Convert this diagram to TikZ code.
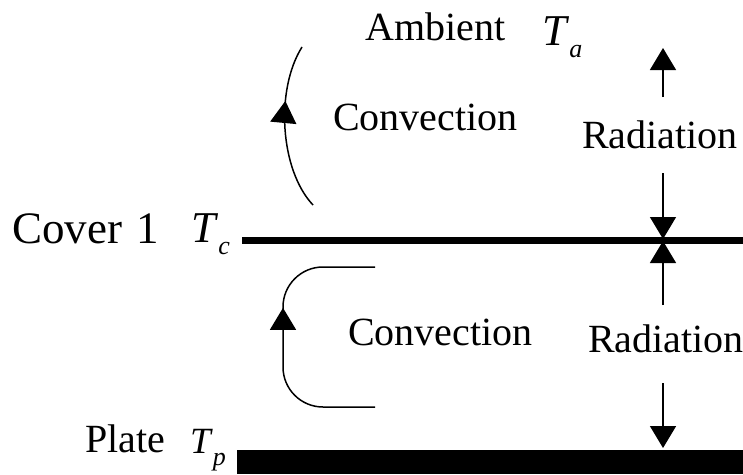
\documentclass[tikz,border=0pt]{standalone}
\usepackage{fontspec}
\setmainfont{LiberationSerif}[Extension=.ttf, UprightFont=*-Regular, ItalicFont=*-Italic, BoldFont=*-Bold, BoldItalicFont=*-BoldItalic]
\usetikzlibrary{arrows.meta,positioning,decorations.markings}

\newcommand{\Tsub}[1]{\textit{T}\raisebox{-12pt}{\fontsize{26}{30}\selectfont\textit{#1}}}

\begin{document}
\begin{tikzpicture}[x=1pt, y=-1pt, >={Triangle[length=22pt,width=26pt]},
    every node/.style={inner sep=0pt, anchor=base west, font=\fontsize{40}{48}\selectfont}]
    \useasboundingbox (0,0) rectangle (743,474);

    % cover and plate
    \coordinate (cl) at (242,240);
    \coordinate (cr) at (743,240);
    \draw[line width=7pt] (cl) -- (cr);
    \node[fill, anchor=north west, minimum width=506pt, minimum height=24pt] (plate) at (237,450) {};

    % labels
    \node (amb) at (365,40) {Ambient};
    \node (ta) at (542,45) {\fontsize{44}{48}\selectfont\Tsub{a}};
    \node (cover) at (12,243) {\fontsize{45}{50}\selectfont Cover\hspace{14pt}1};
    \node (tc) at (191,242) {\fontsize{44}{48}\selectfont\Tsub{c}};
    \node (pl) at (85,452) {Plate};
    \node (tp) at (190,453) {\fontsize{37}{40}\selectfont\Tsub{p}};
    \node (conv1) at (333,130) {Convection};
    \node (conv2) at (348,345) {Convection};
    \node (rad1) at (582,148) {Radiation};
    \node (rad2) at (588,352) {Radiation};

    % radiation arrows
    \coordinate (r1a) at (663,97);  \coordinate (r1b) at (663,48);
    \coordinate (r2a) at (663,173); \coordinate (r2b) at (663,239);
    \coordinate (r3a) at (663,305); \coordinate (r3b) at (663,241);
    \coordinate (r4a) at (663,383); \coordinate (r4b) at (663,448);
    \draw[->, line width=1.5pt] (r1a) -- (r1b);
    \draw[->, line width=1.5pt] (r2a) -- (r2b);
    \draw[->, line width=1.5pt] (r3a) -- (r3b);
    \draw[->, line width=1.5pt] (r4a) -- (r4b);

    % convection loops
    \coordinate (c1a) at (313,205); \coordinate (c1b) at (302,47);
    \draw[line width=1.5pt, postaction=decorate,
        decoration={markings, mark=at position 0.66 with {\arrow{>}}}]
        (c1a) .. controls (280,170) and (275,90) .. (c1b);
    \coordinate (c2a) at (375,407); \coordinate (c2b) at (375,267);
    \draw[line width=1.5pt, rounded corners=40pt, postaction=decorate,
        decoration={markings, mark=at position 174pt with {\arrow{>}}}]
        (c2a) -- (283,407) -- (283,267) -- (c2b);
\end{tikzpicture}
\end{document}
